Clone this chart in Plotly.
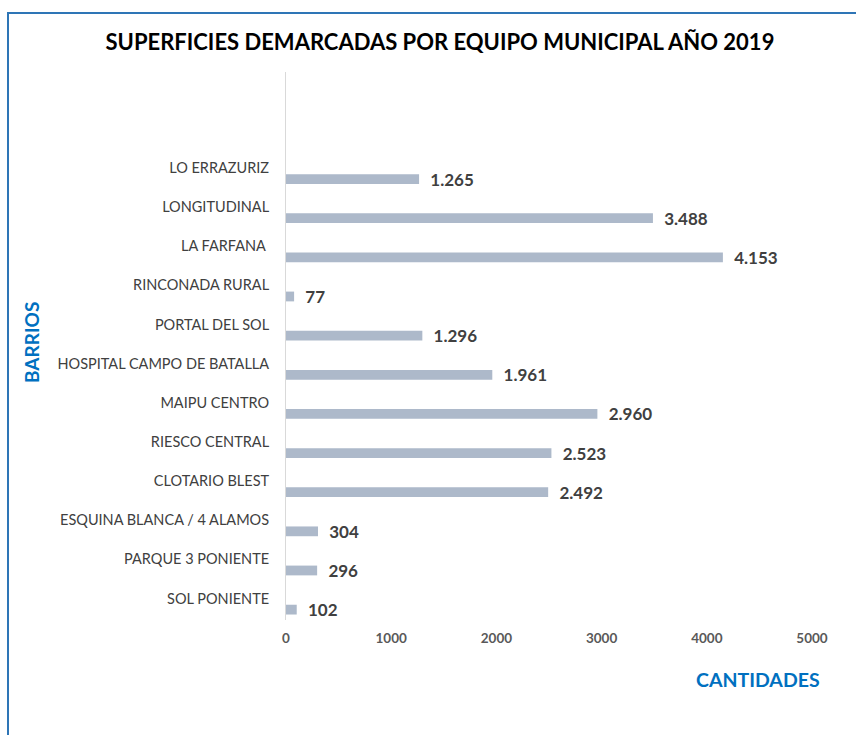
import plotly.graph_objects as go

barrios = [
    "LO ERRAZURIZ",
    "LONGITUDINAL",
    "LA FARFANA ",
    "RINCONADA RURAL",
    "PORTAL DEL SOL",
    "HOSPITAL CAMPO DE BATALLA",
    "MAIPU CENTRO",
    "RIESCO CENTRAL",
    "CLOTARIO BLEST",
    "ESQUINA BLANCA / 4 ALAMOS",
    "PARQUE 3 PONIENTE",
    "SOL PONIENTE",
]
superficies = [1265, 3488, 4153, 77, 1296, 1961, 2960, 2523, 2492, 304, 296, 102]

W, H = 856, 735
L, R, T, B = 286, 44, 72, 115
pw, ph = W - L - R, H - T - B


def px_x(p):
    return (p - L) / pw


def px_y(p):
    return (H - B - p) / ph


fig = go.Figure()

fig.add_trace(go.Bar(
    y=barrios,
    x=superficies,
    orientation="h",
    width=0.25,
    offset=-0.41,
    marker=dict(color="#ADB9CA", line=dict(width=0)),
    texttemplate="\u00a0\u00a0%{x:,}",
    textposition="outside",
    constraintext="none",
    cliponaxis=False,
    textfont=dict(family="Lato", size=17, color="#404040", weight="bold"),
    hoverinfo="skip",
))

fig.update_layout(
    width=W,
    height=H,
    margin=dict(l=L, r=R, t=T, b=B),
    plot_bgcolor="white",
    paper_bgcolor="white",
    separators=",.",
    showlegend=False,
    title=dict(
        text="<b>SUPERFICIES DEMARCADAS POR EQUIPO MUNICIPAL AÑO 2019</b>",
        x=0.514,
        xanchor="center",
        y=1 - 42 / H,
        yanchor="middle",
        font=dict(family="Lato", size=22, color="#000000"),
    ),
    font=dict(family="Lato"),
)

fig.update_xaxes(
    range=[0, 5000],
    dtick=1000,
    tickformat="d",
    showgrid=False,
    zeroline=False,
    showline=False,
    ticks="",
    ticklabelstandoff=8,
    tickfont=dict(family="Lato", size=13.5, color="#595959", weight="bold"),
)

fig.update_yaxes(
    categoryorder="array",
    categoryarray=list(reversed(barrios)),
    range=[-0.55, 13.45],
    showgrid=False,
    zeroline=False,
    showline=True,
    linecolor="#D9D9D9",
    linewidth=1,
    ticks="",
    ticklabelstandoff=13,
    tickfont=dict(family="Lato", size=14.5, color="#404040"),
)

fig.add_annotation(
    text="<b>CANTIDADES</b>",
    xref="paper", yref="paper",
    x=px_x(758), y=px_y(679),
    xanchor="center", yanchor="middle",
    showarrow=False,
    font=dict(family="Lato", size=19.5, color="#0070C0"),
)
fig.add_annotation(
    text="<b>BARRIOS</b>",
    xref="paper", yref="paper",
    x=px_x(31), y=px_y(343),
    xanchor="center", yanchor="middle",
    textangle=-90,
    showarrow=False,
    font=dict(family="Lato", size=19, color="#0070C0"),
)

fig.add_shape(
    type="rect",
    xref="paper", yref="paper",
    x0=px_x(8), x1=px_x(870),
    y0=px_y(750), y1=px_y(13),
    line=dict(color="#2E75B6", width=2),
)

fig.write_html(
    "out.html",
    config={"displayModeBar": False},
    post_script="document.body.style.margin='0';",
)
